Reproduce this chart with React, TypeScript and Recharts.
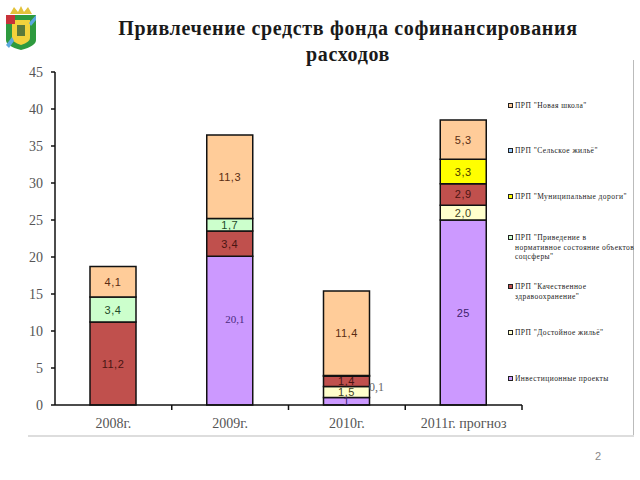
import React from "react";
import { BarChart, Bar, XAxis, YAxis, LabelList, Legend } from "recharts";

const categories = ["2008г.", "2009г.", "2010г.", "2011г. прогноз"];
const yTicks = [0, 5, 10, 15, 20, 25, 30, 35, 40, 45];

const investValues = [null, 20.1, 1, 25];
const worthyHousing = [null, null, 1.5, 2.0];
const qualityHealth = [11.2, 3.4, 1.4, 2.9];
const socialObjects = [3.4, 1.7, 0.1, null];
const municipalRoads = [null, null, null, 3.3];
const ruralHousing = [null, null, null, null];
const newSchool = [4.1, 11.3, 11.4, 5.3];

const seriesNames = [
  'Инвестиционные проекты',
  'ПРП "Достойное жильё"',
  'ПРП "Качественное\nздравоохранение"',
  'ПРП "Приведение в\nнормативное состояние объектов\nсоцсферы"',
  'ПРП "Муниципальные дороги"',
  'ПРП "Сельское жильё"',
  'ПРП "Новая школа"',
];
const seriesValues = [investValues, worthyHousing, qualityHealth, socialObjects, municipalRoads, ruralHousing, newSchool];
const seriesColors = ["#CC99FF", "#FFFFCC", "#C0504D", "#CCFFCC", "#FFFF00", "#99CCFF", "#FFCC99"];
const labelColors = ["#3d1f6b", "#3f4020", "#4a1512", "#1f4a2a", "#4a3a00", "#223", "#5a2c12"];
const legendTops = [379, 333, 287, 238, 197, 151, 106];

const fmt = (v: number | null) => {
  if (v === null) return null;
  if (v === 1 || v === 25) return String(v);
  return v.toFixed(1).replace(".", ",");
};

const rows = categories.map((name, i) => {
  const row: Record<string, string | number | null> = { name };
  seriesValues.forEach((vals, s) => {
    row[`s${s}`] = vals[i];
    row[`l${s}`] = fmt(vals[i]);
  });
  return row;
});

const makeLabel = (s: number) => (p: any) => {
  if (p.value === null || p.value === undefined) return null;
  const text = String(p.value);
  const cx = p.x + p.width / 2;
  const cy = p.y + p.height / 2;
  if (text === "20,1") {
    return (
      <text x={cx + 5} y={cy - 12} textAnchor="middle" dominantBaseline="central" fontFamily="'Liberation Serif'" fontSize={11} fill="#4b2a80">
        {text}
      </text>
    );
  }
  if (text === "0,1") {
    return (
      <text x={cx + 30} y={cy + 11} textAnchor="middle" dominantBaseline="central" fontFamily="'Liberation Serif'" fontSize={12} fill="#666">
        {text}
      </text>
    );
  }
  return (
    <text x={cx} y={cy} textAnchor="middle" dominantBaseline="central" fontFamily="'Liberation Sans'" fontSize={11} letterSpacing={0.5} fill={labelColors[s]}>
      {text}
    </text>
  );
};

const CategoryTick = (p: any) => {
  const half = p.width / categories.length / 2;
  return (
    <g>
      <line x1={p.x + half} x2={p.x + half} y1={p.y - 8} y2={p.y - 3} stroke="#111" strokeWidth={1.5} />
      <text x={p.x} y={p.y + 15} textAnchor="middle" fontFamily="'Liberation Serif'" fontSize={14} fill="#555">
        {p.payload.value}
      </text>
    </g>
  );
};

const LegendBox = () => (
  <div style={{ position: "relative", width: 0, height: 0 }}>
    {seriesNames.map((n, i) => (
      <div
        key={n}
        style={{
          position: "absolute",
          left: 508,
          top: legendTops[i] - 5,
          width: 132,
          display: "flex",
          alignItems: "flex-start",
          fontFamily: "'Liberation Serif'",
          fontSize: 7.5,
          fontWeight: 400,
          lineHeight: "9.5px",
          color: "#222",
          letterSpacing: 0.45,
          textAlign: "left",
        }}
      >
        <span style={{ flex: "0 0 auto", width: 3, height: 3, marginTop: 2, border: "1.5px solid #222", background: seriesColors[i], marginRight: 2 }} />
        <span style={{ whiteSpace: "pre" }}>{n}</span>
      </div>
    ))}
  </div>
);

const Emblem = () => (
  <svg width={34} height={50} viewBox="0 0 34 50" style={{ position: "absolute", left: 4, top: 4 }}>
    <path d="M6 10 L10 3 L14 8 L17 2 L20 8 L24 3 L28 10 Z" fill="#e3c23a" />
    <path d="M2 11 H32 V36 Q32 42 17 46 Q2 42 2 36 Z" fill="#2e9a3e" />
    <path d="M8 16 H26 V34 Q26 38 17 41 Q8 38 8 34 Z" fill="#f3d23c" />
    <path d="M13 21 H21 V32 H13 Z" fill="#5b7a3a" />
    <rect x={2} y={11} width={9} height={9} fill="#c8323a" />
    <path d="M2 41 L8 33 L10 37 L5 44 Z" fill="#5aa7de" />
    <path d="M32 11 L25 19 L27 22 L32 16 Z" fill="#5aa7de" />
  </svg>
);

export default function App() {
  return (
    <div style={{ position: "absolute", left: 0, top: 0, width: 640, height: 480, background: "#fff", overflow: "hidden" }}>
      <Emblem />
      <div
        style={{
          position: "absolute",
          left: 100,
          top: 15,
          width: 496,
          textAlign: "center",
          fontFamily: "'Liberation Serif'",
          fontWeight: 700,
          fontSize: 20,
          lineHeight: "26px",
          letterSpacing: 0.65,
          color: "#1a1a1a",
        }}
      >
        Привлечение средств фонда софинансирования расходов
      </div>
      <div style={{ position: "absolute", left: 633, top: 60, width: 1, height: 376, background: "#bbb" }} />
      <div style={{ position: "absolute", left: 28, top: 435, width: 606, height: 2, background: "#ddd" }} />
      <div style={{ position: "absolute", left: 595, top: 450, fontFamily: "'Liberation Sans'", fontSize: 11, color: "#888" }}>2</div>
      <BarChart
        width={640}
        height={480}
        data={rows}
        margin={{ top: 72, right: 118, bottom: 0, left: 0 }}
        barSize={46}
        style={{ position: "absolute", left: 0, top: 0 }}
      >
        <XAxis
          dataKey="name"
          axisLine={{ stroke: "#111", strokeWidth: 1.5 }}
          tickLine={false}
          tick={<CategoryTick />}
          interval={0}
          height={75}
        />
        <YAxis
          type="number"
          domain={[0, 45]}
          ticks={yTicks}
          width={55}
          axisLine={{ stroke: "#111", strokeWidth: 1.5 }}
          tickLine={{ stroke: "#111", strokeWidth: 1.5 }}
          tickSize={4}
          tickMargin={8}
          tick={{ fontFamily: "'Liberation Serif'", fontSize: 14, fill: "#555" }}
        />
        <Legend
          content={<LegendBox />}
          wrapperStyle={{ position: "absolute", left: 0, top: 0, width: 0, height: 0 }}
        />
        {seriesNames.map((n, s) => (
          <Bar key={n} dataKey={`s${s}`} name={n} stackId="a" fill={seriesColors[s]} stroke="#111" strokeWidth={1.5} isAnimationActive={false}>
            <LabelList dataKey={`l${s}`} content={makeLabel(s)} />
          </Bar>
        ))}
      </BarChart>
    </div>
  );
}
